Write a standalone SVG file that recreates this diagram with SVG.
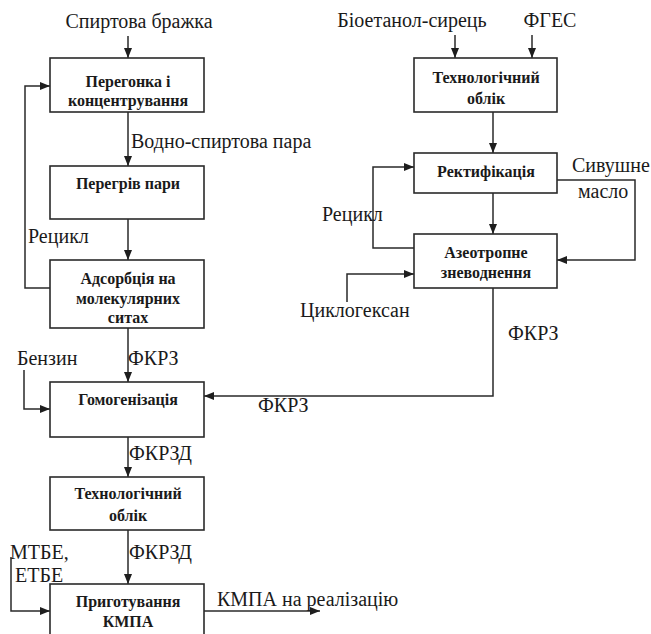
<svg xmlns="http://www.w3.org/2000/svg" width="651" height="634" viewBox="0 0 651 634">
<defs>
<marker id="ah" viewBox="0 0 10 8" refX="10" refY="4" markerWidth="10" markerHeight="8" markerUnits="userSpaceOnUse" orient="auto">
<path d="M0,0 L10,4 L0,8 Z" fill="#1e1e1e"/>
</marker>
<style>
.box{fill:#fff;stroke:#2a2a2a;stroke-width:1.6}
.c{fill:none;stroke:#2a2a2a;stroke-width:1.5;marker-end:url(#ah)}
.lbl{font-family:'Liberation Serif','DejaVu Serif',serif;font-size:20px;fill:#1a1a1a}
.bt{font-family:'Liberation Serif','DejaVu Serif',serif;font-size:16px;font-weight:bold;fill:#1a1a1a;text-anchor:middle}
</style>
</defs>
<rect width="651" height="634" fill="#fff"/>

<g id="connectors">
<line class="c" x1="128" y1="36" x2="128" y2="58"/>
<line class="c" x1="128" y1="112" x2="128" y2="166"/>
<line class="c" x1="128" y1="219" x2="128" y2="260"/>
<polyline class="c" points="50,288 25,288 25,86 50,86"/>
<line class="c" x1="128" y1="328" x2="128" y2="382"/>
<polyline class="c" points="24,370 24,409 50,409"/>
<line class="c" x1="128" y1="437" x2="128" y2="477"/>
<line class="c" x1="128" y1="530" x2="128" y2="584"/>
<polyline class="c" points="11,557 11,611 50,611"/>
<line class="c" x1="204" y1="611" x2="320" y2="611"/>
<line class="c" x1="455" y1="35" x2="455" y2="58"/>
<line class="c" x1="532" y1="35" x2="532" y2="58"/>
<line class="c" x1="493" y1="112" x2="493" y2="153"/>
<line class="c" x1="493" y1="193" x2="493" y2="234"/>
<polyline class="c" points="557,180 635,180 635,260 557,260"/>
<polyline class="c" points="414,248 373,248 373,167 414,167"/>
<polyline class="c" points="347,302 347,274 414,274"/>
<polyline class="c" points="493,288 493,396 204,396"/>
</g>

<g id="labels">
<text class="lbl" x="139" y="28" text-anchor="middle">Спиртова бражка</text>
<text class="lbl" x="412" y="27" text-anchor="middle">Біоетанол-сирець</text>
<text class="lbl" x="550" y="27" text-anchor="middle">ФГЕС</text>
<text class="lbl" x="131" y="148">Водно-спиртова пара</text>
<text class="lbl" x="28" y="243">Рецикл</text>
<text class="lbl" x="322" y="221">Рецикл</text>
<text class="lbl" x="572" y="172">Сивушне</text>
<text class="lbl" x="578" y="198">масло</text>
<text class="lbl" x="300" y="317">Циклогексан</text>
<text class="lbl" x="508" y="340">ФКРЗ</text>
<text class="lbl" x="128" y="365">ФКРЗ</text>
<text class="lbl" x="17" y="365">Бензин</text>
<text class="lbl" x="258" y="412">ФКРЗ</text>
<text class="lbl" x="129" y="460">ФКРЗД</text>
<text class="lbl" x="129" y="559">ФКРЗД</text>
<text class="lbl" x="10" y="559">МТБЕ,</text>
<text class="lbl" x="15" y="582">ЕТБЕ</text>
<text class="lbl" x="217" y="606">КМПА на реалізацію</text>
</g>

<g id="n-peregonka">
<rect class="box" x="50" y="58" width="154" height="54"/>
<text class="bt" x="128" y="87">Перегонка  і</text>
<text class="bt" x="128" y="106">концентрування</text>
</g>
<g id="n-peregriv">
<rect class="box" x="50" y="166" width="154" height="53"/>
<text class="bt" x="128" y="189">Перегрів пари</text>
</g>
<g id="n-adsorbtsiia">
<rect class="box" x="50" y="260" width="154" height="68"/>
<text class="bt" x="128" y="284">Адсорбція на</text>
<text class="bt" x="128" y="304">молекулярних</text>
<text class="bt" x="128" y="323">ситах</text>
</g>
<g id="n-homohenizatsiia">
<rect class="box" x="50" y="382" width="154" height="55"/>
<text class="bt" x="128" y="405">Гомогенізація</text>
</g>
<g id="n-oblik2">
<rect class="box" x="50" y="477" width="154" height="53"/>
<text class="bt" x="128" y="499">Технологічний</text>
<text class="bt" x="128" y="521">облік</text>
</g>
<g id="n-pryhotuvannia">
<rect class="box" x="50" y="584" width="154" height="66"/>
<text class="bt" x="128" y="607">Приготування</text>
<text class="bt" x="128" y="627">КМПА</text>
</g>
<g id="n-oblik1">
<rect class="box" x="414" y="58" width="143" height="54"/>
<text class="bt" x="486" y="83">Технологічний</text>
<text class="bt" x="486" y="104">облік</text>
</g>
<g id="n-rektyfikatsiia">
<rect class="box" x="414" y="153" width="143" height="40"/>
<text class="bt" x="486" y="177">Ректифікація</text>
</g>
<g id="n-azeotropne">
<rect class="box" x="414" y="234" width="143" height="54"/>
<text class="bt" x="486" y="258">Азеотропне</text>
<text class="bt" x="486" y="278">зневоднення</text>
</g>
</svg>
